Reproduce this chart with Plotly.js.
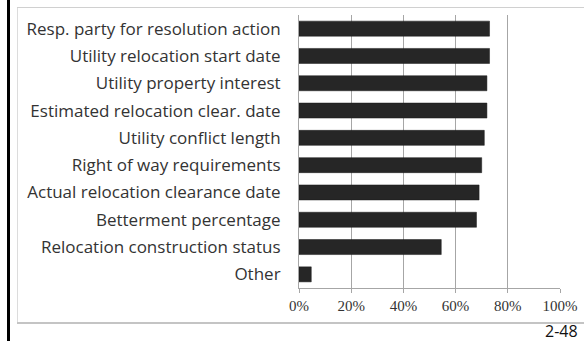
<!DOCTYPE html>
<html>
<head>
<meta charset="utf-8">
<script src="https://cdn.plot.ly/plotly-3.0.1.min.js"></script>
<style>
  html, body { margin: 0; padding: 0; background: #fff; }
  #chart { width: 584px; height: 341px; }
</style>
</head>
<body>
<div id="chart"></div>
<script>
const categories = [
  "Resp. party for resolution action",
  "Utility relocation start date",
  "Utility property interest",
  "Estimated relocation clear. date",
  "Utility conflict length",
  "Right of way requirements",
  "Actual relocation clearance date",
  "Betterment percentage",
  "Relocation construction status",
  "Other"
];
const values = [0.73, 0.73, 0.72, 0.72, 0.71, 0.70, 0.69, 0.68, 0.545, 0.047];
const tickVals = [0, 0.2, 0.4, 0.6, 0.8, 1.0];
const tickText = ["0%", "20%", "40%", "60%", "80%", "100%"];
const pageNote = "2-48";

const W = 584, H = 341;
const M = { l: 299, r: 24, t: 15, b: 53 };
const pw = W - M.l - M.r, ph = H - M.t - M.b;
const px = v => (v - M.l) / pw;
const py = v => (H - M.b - v) / ph;

const trace = {
  type: 'bar',
  orientation: 'h',
  x: values,
  y: categories,
  marker: { color: '#262626', line: { color: '#1a1a1a', width: 0.5 } },
  hoverinfo: 'skip'
};

const layout = {
  width: W, height: H,
  margin: M,
  paper_bgcolor: '#fff',
  plot_bgcolor: '#fff',
  showlegend: false,
  bargap: 0.45,
  font: { family: '"Open Sans", sans-serif', color: '#333' },
  xaxis: {
    range: [0, 1.0],
    tickvals: tickVals,
    ticktext: tickText,
    showgrid: true,
    gridcolor: '#a6a6a6',
    gridwidth: 1,
    zeroline: false,
    showline: true,
    linecolor: '#a6a6a6',
    linewidth: 1,
    ticks: 'outside',
    ticklen: 4,
    tickcolor: '#a6a6a6',
    tickfont: { family: '"Liberation Serif", serif', size: 15, color: '#333' },
    fixedrange: true
  },
  yaxis: {
    autorange: 'reversed',
    showgrid: false,
    showline: true,
    linecolor: '#a6a6a6',
    linewidth: 1,
    ticks: '',
    ticklabelstandoff: 14,
    tickfont: { family: '"Open Sans", sans-serif', size: 17, color: '#333' },
    fixedrange: true
  },
  shapes: [
    { type: 'line', xref: 'paper', yref: 'paper', x0: px(8.5), x1: px(8.5), y0: py(0), y1: py(341),
      line: { color: '#000', width: 3 } },
    { type: 'line', xref: 'paper', yref: 'paper', x0: px(17.5), x1: px(17.5), y0: py(7), y1: py(323),
      line: { color: '#dcdcdc', width: 1 } },
    { type: 'line', xref: 'paper', yref: 'paper', x0: px(17), x1: px(584), y0: py(7.5), y1: py(7.5),
      line: { color: '#d0d0d0', width: 1 } },
    { type: 'line', xref: 'paper', yref: 'paper', x0: px(17), x1: px(584), y0: py(323), y1: py(323),
      line: { color: '#c4c4c4', width: 2 } }
  ],
  annotations: [
    { xref: 'paper', yref: 'paper', x: px(580), y: py(331), xanchor: 'right', yanchor: 'middle',
      text: pageNote, showarrow: false,
      font: { family: '"Open Sans", sans-serif', size: 16, color: '#111' } }
  ]
};

Plotly.newPlot('chart', [trace], layout, { displayModeBar: false, staticPlot: true });
</script>
</body>
</html>
